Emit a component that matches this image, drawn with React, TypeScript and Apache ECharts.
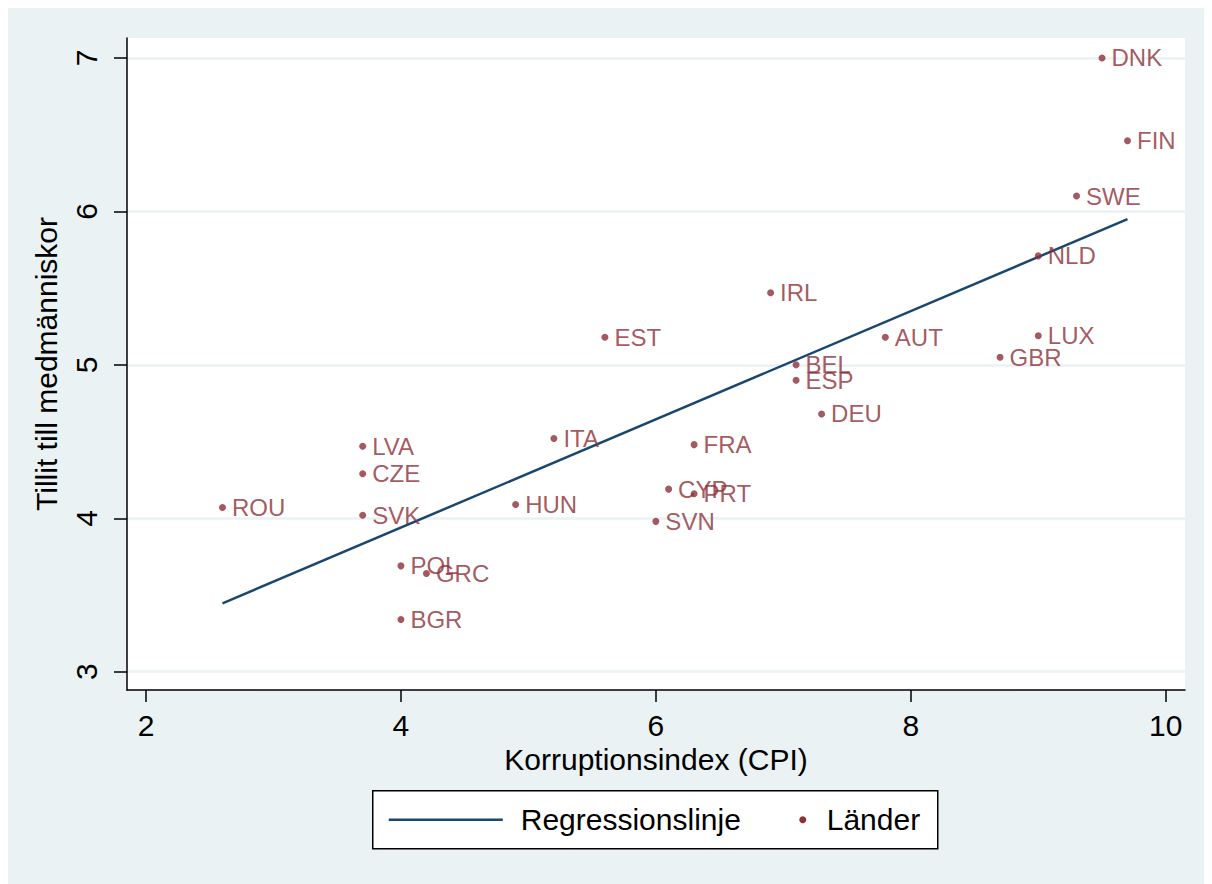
import React, { useEffect, useRef } from "react";
import * as echarts from "echarts";

const countries = ["DNK", "FIN", "SWE", "NLD", "IRL", "EST", "AUT", "LUX", "GBR", "BEL", "ESP", "DEU", "ITA", "FRA", "LVA", "CZE", "ROU", "HUN", "CYP", "PRT", "SVK", "SVN", "POL", "GRC", "BGR"];
const cpi = [9.5, 9.7, 9.3, 9.0, 6.9, 5.6, 7.8, 9.0, 8.7, 7.1, 7.1, 7.3, 5.2, 6.3, 3.7, 3.7, 2.6, 4.9, 6.1, 6.3, 3.7, 6.0, 4.0, 4.2, 4.0];
const trust = [7.0, 6.46, 6.1, 5.71, 5.47, 5.18, 5.18, 5.19, 5.05, 5.0, 4.9, 4.68, 4.52, 4.48, 4.47, 4.29, 4.07, 4.09, 4.19, 4.16, 4.02, 3.98, 3.69, 3.64, 3.34];
const regX = [2.6, 9.7];
const regY = [3.446, 5.95];
const xTicks = [2, 4, 6, 8, 10];
const yTicks = [3, 4, 5, 6, 7];

const LINE = "#1A476F";
const DOT = "#8C2F37";
const BG = "#EAF2F3";
const FONT = "'Liberation Sans', Arial, sans-serif";

export default function App() {
  const ref = useRef<HTMLDivElement>(null);
  useEffect(() => {
    if (!ref.current) return;
    const chart = echarts.init(ref.current, null, { renderer: "svg" });
    const points = countries.map((c, i) => ({ name: c, value: [cpi[i], trust[i]] }));
    const reg = regX.map((x, i) => [x, regY[i]]);
    chart.setOption({
      animation: false,
      backgroundColor: BG,
      textStyle: { fontFamily: FONT },
      grid: {
        left: 119,
        right: 27,
        top: 30,
        bottom: 194,
        show: true,
        backgroundColor: "#ffffff",
        borderWidth: 0,
      },
      xAxis: {
        type: "value",
        min: 1.851,
        max: 10.151,
        name: "Korruptionsindex (CPI)",
        nameLocation: "middle",
        nameGap: 49,
        nameTextStyle: { fontSize: 30, color: "#000", fontFamily: FONT },
        axisLine: { show: true, onZero: false, lineStyle: { color: "#000", width: 1.5 } },
        axisTick: { show: true, length: 12, lineStyle: { color: "#000", width: 1.5 }, customValues: xTicks },
        axisLabel: { fontSize: 30, color: "#000", margin: 20, fontFamily: FONT, customValues: xTicks },
        splitLine: { show: false },
      },
      yAxis: {
        type: "value",
        min: 2.881,
        max: 7.13,
        name: "Tillit till medmänniskor",
        nameLocation: "middle",
        nameGap: 66,
        nameTextStyle: { fontSize: 30, color: "#000", fontFamily: FONT },
        axisLine: { show: true, onZero: false, lineStyle: { color: "#000", width: 1.5 } },
        axisTick: { show: true, length: 13, lineStyle: { color: "#000", width: 1.5 }, customValues: yTicks },
        axisLabel: { fontSize: 30, color: "#000", margin: 26, rotate: 90, fontFamily: FONT, customValues: yTicks },
        splitLine: { show: false },
      },
      series: [
        {
          type: "line",
          data: [],
          z: 0,
          silent: true,
          markLine: {
            z: 0,
            silent: true,
            symbol: "none",
            label: { show: false },
            lineStyle: { color: BG, width: 2.5, type: "solid" },
            data: yTicks.map((v) => ({ yAxis: v })),
          },
        },
        {
          name: "Regressionslinje",
          type: "line",
          data: reg,
          z: 3,
          showSymbol: false,
          symbol: "none",
          lineStyle: { color: LINE, width: 2.5 },
        },
        {
          name: "Länder",
          type: "scatter",
          data: points,
          z: 4,
          symbol: "circle",
          symbolSize: 7,
          itemStyle: { color: DOT },
          label: {
            show: true,
            position: "right",
            distance: 6,
            formatter: "{b}",
            color: DOT,
            fontSize: 24,
            fontFamily: FONT,
          },
        },
      ],
      graphic: [
        {
          type: "group",
          left: 364,
          top: 782,
          children: [
            {
              type: "rect",
              shape: { x: 0, y: 0, width: 565, height: 58 },
              style: { fill: "#ffffff", stroke: "#000", lineWidth: 1.5 },
            },
            {
              type: "line",
              shape: { x1: 16, y1: 29, x2: 130, y2: 29 },
              style: { stroke: LINE, lineWidth: 2.5 },
            },
            {
              type: "text",
              x: 148,
              y: 29,
              style: { text: "Regressionslinje", fontSize: 30, fill: "#000", fontFamily: FONT, verticalAlign: "middle", align: "left" },
            },
            {
              type: "circle",
              shape: { cx: 430, cy: 29, r: 3.5 },
              style: { fill: DOT },
            },
            {
              type: "text",
              x: 454,
              y: 29,
              style: { text: "Länder", fontSize: 30, fill: "#000", fontFamily: FONT, verticalAlign: "middle", align: "left" },
            },
          ],
        },
      ],
    });
    return () => chart.dispose();
  }, []);
  return <div ref={ref} style={{ width: 1204, height: 876 }} />;
}
